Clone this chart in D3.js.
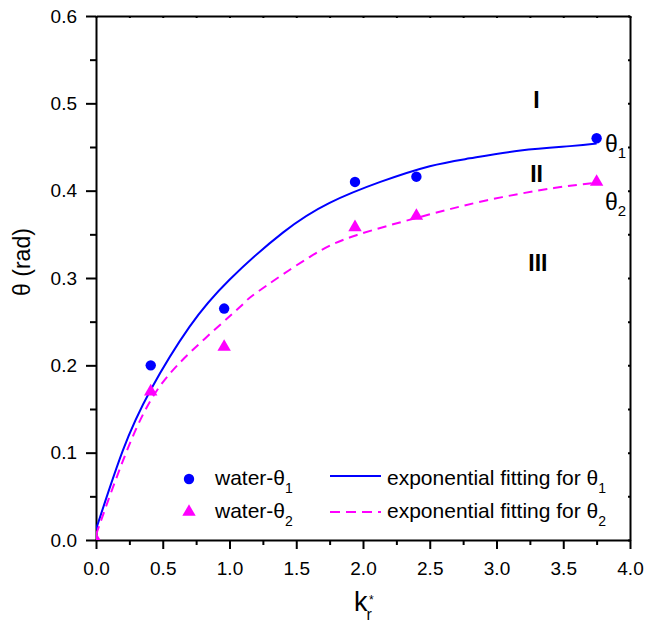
<!DOCTYPE html>
<html>
<head>
<meta charset="utf-8">
<script src="https://cdn.jsdelivr.net/npm/d3@7"></script>
<style>
  body { margin: 0; background: #fff; }
  svg text { font-family: "Liberation Sans", Arial, sans-serif; fill: #000; }
</style>
</head>
<body>
<div id="chart"></div>
<script>
// measured points
const theta1 = [[0.41, 0.200], [0.96, 0.265], [1.94, 0.410], [2.40, 0.416], [3.75, 0.460]];
const theta2 = [[0, 0], [0.41, 0.170], [0.96, 0.221], [1.94, 0.358], [2.40, 0.371], [3.75, 0.410]];

// fitted curves
const fit1 = [[0, 0.012], [0.2, 0.102], [0.41, 0.172], [0.7, 0.244], [1.0, 0.298], [1.4, 0.352],
  [1.75, 0.386], [2.13, 0.410], [2.5, 0.428], [2.8, 0.437], [3.18, 0.446], [3.55, 0.451], [3.75, 0.454]];
const fit2 = [[0, 0.006], [0.2, 0.090], [0.41, 0.160], [0.7, 0.214], [1.08, 0.267], [1.2, 0.283],
  [1.6, 0.324], [1.95, 0.349], [2.43, 0.370], [2.93, 0.389], [3.43, 0.403], [3.75, 0.409]];

const xTicks = [0, 0.5, 1.0, 1.5, 2.0, 2.5, 3.0, 3.5, 4.0];
const yTicks = [0, 0.1, 0.2, 0.3, 0.4, 0.5, 0.6];

const width = 646, height = 623;
const margin = {left: 96, right: 16, top: 16, bottom: 83};

const svg = d3.select("#chart").append("svg")
  .attr("width", width).attr("height", height);

const x = d3.scaleLinear().domain([0, 4]).range([margin.left, width - margin.right]);
const y = d3.scaleLinear().domain([0, 0.6]).range([height - margin.bottom, margin.top]);

svg.append("clipPath").attr("id", "clip").append("rect")
  .attr("x", x(0)).attr("y", y(0.6))
  .attr("width", x(4) - x(0)).attr("height", y(0) - y(0.6));

const blue = "#0000ff", magenta = "#ff00ff";

// minor ticks
const xMinor = d3.range(0.25, 4, 0.5);
const yMinor = d3.range(0.05, 0.6, 0.1);

// bottom axis
const gx = svg.append("g").attr("transform", `translate(0,${y(0)})`)
  .call(d3.axisBottom(x).tickValues(xTicks).tickFormat(d3.format(".1f")).tickSize(9).tickSizeOuter(0));
gx.append("g").call(d3.axisBottom(x).tickValues(xMinor).tickFormat("").tickSize(5).tickSizeOuter(0))
  .select(".domain").remove();
// left axis
const gy = svg.append("g").attr("transform", `translate(${x(0)},0)`)
  .call(d3.axisLeft(y).tickValues(yTicks).tickFormat(d3.format(".1f")).tickSize(10).tickSizeOuter(0));
gy.append("g").call(d3.axisLeft(y).tickValues(yMinor).tickFormat("").tickSize(6).tickSizeOuter(0))
  .select(".domain").remove();
// top and right axes with small inner ticks
svg.append("g").attr("transform", `translate(0,${y(0.6)})`)
  .call(d3.axisBottom(x).tickValues(xTicks.concat(xMinor)).tickFormat("").tickSize(2).tickSizeOuter(0));
svg.append("g").attr("transform", `translate(${x(4)},0)`)
  .call(d3.axisLeft(y).tickValues(yTicks.concat(yMinor)).tickFormat("").tickSize(2).tickSizeOuter(0));

svg.selectAll(".domain").attr("stroke", "#000").attr("stroke-width", 2);
svg.selectAll(".tick line").attr("stroke", "#000").attr("stroke-width", 2);
gx.selectAll(".tick text").attr("font-size", 19).attr("dy", null).attr("y", 35);
gy.selectAll(".tick text").attr("font-size", 19).attr("x", -19);

// curves
const line = d3.line().x(d => x(d[0])).y(d => y(d[1])).curve(d3.curveNatural);
const plot = svg.append("g").attr("clip-path", "url(#clip)");
plot.append("path").datum(fit1).attr("d", line)
  .attr("fill", "none").attr("stroke", blue).attr("stroke-width", 2);
plot.append("path").datum(fit2).attr("d", line)
  .attr("fill", "none").attr("stroke", magenta).attr("stroke-width", 2)
  .attr("stroke-dasharray", "9,6");

const tri = d3.symbol().type(d3.symbolTriangle).size(78);
plot.selectAll(".t2").data(theta2).enter().append("path")
  .attr("transform", d => `translate(${x(d[0])},${y(d[1])})`)
  .attr("d", tri).attr("fill", magenta);
plot.selectAll(".t1").data(theta1).enter().append("circle")
  .attr("cx", d => x(d[0])).attr("cy", d => y(d[1]))
  .attr("r", 5.2).attr("fill", blue);

// region labels
const regions = [["I", 3.30, 0.495], ["II", 3.30, 0.41], ["III", 3.31, 0.308]];
svg.selectAll(".reg").data(regions).enter().append("text")
  .attr("x", d => x(d[1])).attr("y", d => y(d[2]))
  .attr("text-anchor", "middle").attr("font-size", 23).attr("font-weight", "bold")
  .text(d => d[0]);

// theta labels at curve ends
function thetaLabel(px, py, sub) {
  const t = svg.append("text").attr("x", px).attr("y", py).attr("font-size", 23);
  t.append("tspan").text("θ");
  t.append("tspan").attr("dy", 6).attr("font-size", 15).text(sub);
}
thetaLabel(605, 152, "1");
thetaLabel(605, 210, "2");

// legend
const legend = svg.append("g");
const l1y = 479, l2y = 512;
legend.append("circle").attr("cx", 189).attr("cy", l1y).attr("r", 5.2).attr("fill", blue);
legend.append("path").attr("transform", `translate(189,${l2y})`).attr("d", tri).attr("fill", magenta);
legend.append("line").attr("x1", 330).attr("x2", 381).attr("y1", l1y - 3).attr("y2", l1y - 3)
  .attr("stroke", blue).attr("stroke-width", 2);
legend.append("line").attr("x1", 330).attr("x2", 381).attr("y1", l2y).attr("y2", l2y)
  .attr("stroke", magenta).attr("stroke-width", 2).attr("stroke-dasharray", "10,6");
function legendText(px, py, label, sub) {
  const t = legend.append("text").attr("x", px).attr("y", py).attr("font-size", 21);
  t.append("tspan").text(label);
  t.append("tspan").attr("dy", 8).attr("font-size", 14).text(sub);
}
legendText(215, 485, "water-θ", "1");
legendText(215, 518, "water-θ", "2");
legendText(387, 485, "exponential fitting for θ", "1");
legendText(387, 518, "exponential fitting for θ", "2");

// axis titles
svg.append("text").attr("transform", `translate(30,262) rotate(-90)`)
  .attr("text-anchor", "middle").attr("font-size", 23).text("θ (rad)");
const xt = svg.append("text").attr("x", 354).attr("y", 611).attr("font-size", 27);
xt.append("tspan").text("k");
xt.append("tspan").attr("dy", 9).attr("dx", -1).attr("font-size", 16).text("r");
svg.append("text").attr("x", 369).attr("y", 604).attr("font-size", 12).text("*");
</script>
</body>
</html>
